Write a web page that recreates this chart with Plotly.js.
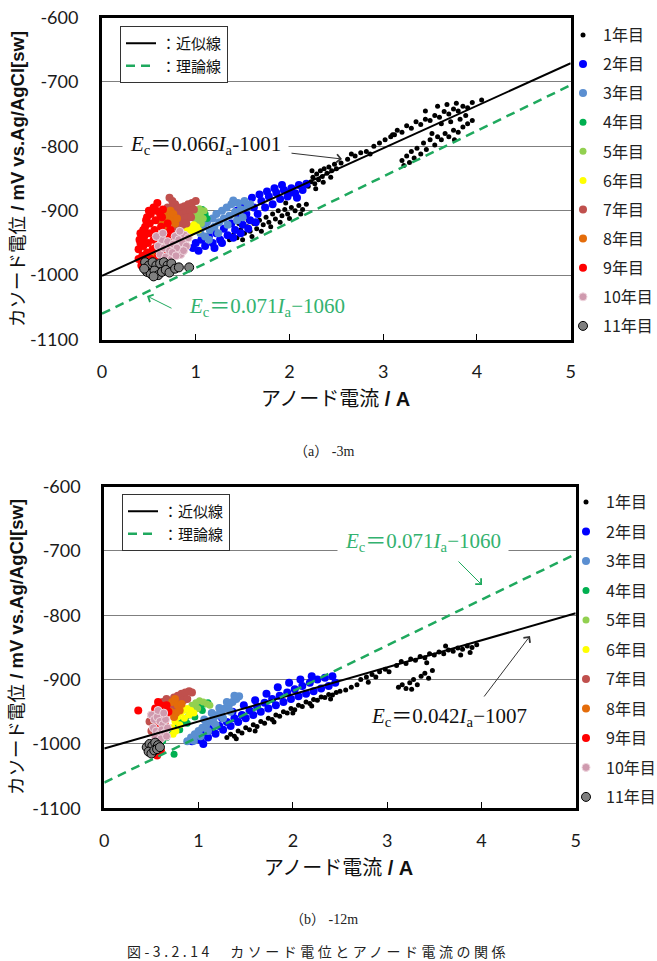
<!DOCTYPE html>
<html>
<head>
<meta charset="utf-8">
<script src="https://cdn.plot.ly/plotly-3.0.1.min.js"></script>
<style>
  html, body { margin: 0; padding: 0; background: #fff; }
  #chart { width: 657px; height: 961px; }
</style>
</head>
<body>
<div id="chart"></div>
<script>
// ---- labels ----
const yearLabels = ['1年目','2年目','3年目','4年目','5年目','6年目','7年目','8年目','9年目','10年目','11年目'];
const xTicks = [0, 1, 2, 3, 4, 5];
const yTicks = [-1100, -1000, -900, -800, -700, -600];
const yTickText = ['-1100', '-1000', '-900', '-800', '-700', '-600'];

// ---- regression / theory lines: Ec = slope * Ia[mA] + intercept ----
const fitTop = [0.066, -1001];
const fitBottom = [0.042, -1007];
const theoryLine = [0.071, -1060];
const lineRangeA = [0, 5];

// ---- (a) -3m : [anode current A, cathode potential mV] ----
const top1 = [
  [1.36,-945],[1.40,-938],[1.44,-942],[1.48,-930],[1.52,-935],[1.55,-925],[1.58,-932],[1.62,-920],[1.65,-928],[1.68,-915],
  [1.72,-922],[1.75,-910],[1.78,-918],[1.82,-905],[1.85,-913],[1.88,-900],[1.92,-908],[1.95,-898],[1.98,-905],[2.02,-895],
  [2.06,-900],[2.10,-892],[2.14,-898],[1.50,-945],[1.60,-940],[1.70,-932],[1.80,-925],[1.90,-918],[2.00,-912],[1.46,-920],
  [1.56,-915],[2.12,-905],[1.96,-888],[2.18,-890],
  [2.20,-862],[2.23,-855],[2.25,-848],[2.27,-858],[2.29,-843],[2.31,-852],[2.33,-838],[2.35,-847],[2.37,-835],[2.40,-842],
  [2.42,-832],[2.45,-838],[2.48,-828],[2.50,-835],[2.28,-866],[2.36,-856],[2.44,-848],[2.24,-838],
  [2.55,-826],[2.62,-820],[2.70,-815],[2.76,-810],[2.82,-808],[2.90,-800],[2.96,-795],[3.02,-790],[3.08,-785],[3.12,-782],
  [2.66,-812],[2.86,-812],
  [3.10,-782],[3.15,-775],[3.20,-778],[3.25,-768],[3.30,-772],[3.35,-762],[3.40,-766],[3.45,-758],[3.50,-760],[3.55,-752],
  [3.60,-755],[3.65,-746],[3.70,-750],[3.75,-742],[3.80,-745],[3.85,-738],[3.90,-740],[3.95,-732],[4.05,-728],[3.58,-738],
  [3.62,-765],[3.72,-762],[3.82,-758],[3.88,-752],[3.78,-733],[3.45,-745],[3.68,-735],
  [3.20,-822],[3.22,-830],[3.25,-815],[3.28,-825],[3.30,-808],[3.33,-818],[3.36,-803],[3.40,-812],[3.43,-795],[3.46,-805],
  [3.50,-790],[3.55,-798],[3.58,-785],[3.62,-790],[3.66,-780],[3.70,-785],[3.75,-775],[3.80,-778],[3.85,-770],[3.90,-765],
  [3.95,-760],[3.52,-780],[3.76,-790]
];
const top2 = [
  [0.97,-958],[1.00,-950],[1.03,-962],[1.06,-945],[1.10,-955],[1.14,-940],[1.18,-950],[1.22,-935],[1.26,-945],[1.30,-928],
  [1.34,-938],[1.38,-920],[1.42,-930],[1.46,-912],[1.50,-922],[1.54,-905],[1.58,-915],[1.62,-895],[1.66,-905],[1.70,-885],
  [1.74,-895],[1.78,-878],[1.82,-890],[1.86,-872],[1.90,-882],[1.94,-868],[1.98,-878],[2.02,-865],[2.06,-873],[2.10,-860],
  [2.14,-868],[2.18,-858],[1.68,-875],[1.76,-870],[1.84,-865],[1.92,-860],[2.00,-872],[2.08,-880],[1.60,-880],[1.52,-893],
  [1.44,-900],[1.20,-958],[1.28,-950],[1.40,-942],[1.48,-935],[1.56,-928],[1.64,-918]
];
const top3 = [
  [1.05,-935],[1.08,-925],[1.10,-940],[1.12,-918],[1.15,-930],[1.18,-912],[1.20,-925],[1.22,-905],[1.25,-918],[1.28,-900],
  [1.30,-912],[1.33,-895],[1.36,-908],[1.38,-890],[1.42,-902],[1.45,-888],[1.48,-898],[1.52,-885],[1.55,-895],[1.58,-890],
  [1.14,-945],[1.24,-935],[1.34,-922],[1.44,-915],[1.40,-884],[1.50,-910]
];
const top4 = [[1.02,-900],[1.07,-898],[1.10,-905],[1.12,-912],[1.05,-915]];
const top5 = [[0.99,-905],[1.02,-910],[1.05,-905],[1.08,-912],[1.03,-918],[1.06,-920],[1.00,-915],[1.09,-900],[1.04,-897]];
const top6 = [[0.92,-930],[0.95,-925],[0.98,-922],[1.01,-925],[0.97,-932],[0.94,-935],[0.54,-972],[0.57,-975],[1.03,-930],[0.90,-927]];
const top7 = [
  [0.72,-880],[0.75,-885],[0.78,-890],[0.74,-895],[0.80,-898],[0.84,-895],[0.88,-893],[0.92,-890],[0.96,-888],[1.00,-885],
  [0.82,-905],[0.86,-905],[0.90,-902],[0.94,-900],[0.98,-898],[0.79,-912],[0.83,-915],[0.87,-912],[0.91,-910],[0.95,-910],
  [0.78,-925],[0.82,-925],[0.86,-922],[0.90,-920],[0.70,-930],[0.74,-935],[0.77,-903],[0.70,-895]
];
const top8 = [
  [0.66,-912],[0.69,-905],[0.72,-910],[0.75,-915],[0.70,-918],[0.78,-920],[0.73,-900],[0.64,-920],[0.76,-905],[0.80,-912],
  [0.52,-968],[0.56,-972],[0.60,-915],[0.67,-925]
];
const top9 = [
  [0.39,-975],[0.39,-960],[0.40,-945],[0.41,-935],[0.42,-985],[0.43,-970],[0.44,-955],[0.45,-940],[0.46,-925],[0.47,-915],
  [0.47,-980],[0.48,-965],[0.49,-950],[0.50,-935],[0.51,-920],[0.52,-905],[0.52,-975],[0.54,-960],[0.55,-945],[0.56,-930],
  [0.57,-915],[0.58,-900],[0.59,-888],[0.60,-970],[0.61,-955],[0.62,-940],[0.63,-925],[0.64,-910],[0.65,-898],[0.66,-965],
  [0.67,-950],[0.68,-935],[0.70,-920],[0.71,-945],[0.73,-930],[0.75,-940],[0.43,-945],[0.53,-990],[0.45,-985],[0.58,-980],
  [0.62,-905],[0.50,-900],[0.55,-895],[0.41,-950],[0.49,-975],[0.57,-958],[0.64,-945],[0.69,-958],[0.44,-930],[0.48,-910]
];
const top10 = [
  [0.60,-955],[0.62,-968],[0.64,-945],[0.66,-958],[0.68,-972],[0.70,-948],[0.72,-962],[0.74,-975],[0.76,-952],[0.78,-940],
  [0.80,-958],[0.82,-945],[0.84,-968],[0.86,-950],[0.88,-938],[0.90,-955],[0.63,-980],[0.67,-985],[0.71,-982],[0.75,-965],
  [0.79,-970],[0.83,-932],[0.87,-962],[0.92,-942],[0.58,-940],[0.65,-935]
];
const top11 = [
  [0.46,-980],[0.50,-985],[0.54,-980],[0.58,-985],[0.62,-982],[0.66,-980],[0.70,-985],[0.74,-982],[0.48,-995],[0.52,-998],
  [0.56,-993],[0.60,-1000],[0.64,-995],[0.68,-992],[0.72,-996],[0.78,-990],[0.82,-988],[0.93,-988],[0.55,-1002],[0.45,-990]
];

// ---- (b) -12m ----
const bot1 = [
  [1.30,-990],[1.34,-985],[1.38,-988],[1.42,-980],[1.46,-983],[1.50,-975],[1.54,-978],[1.58,-970],[1.62,-973],[1.66,-965],
  [1.70,-968],[1.74,-960],[1.78,-962],[1.82,-955],[1.86,-957],[1.90,-950],[1.94,-952],[1.98,-945],[2.02,-947],[2.06,-940],
  [2.10,-942],[2.14,-935],[2.18,-937],[2.22,-931],[2.26,-932],[2.30,-927],[2.34,-928],[2.38,-923],[2.42,-924],[2.46,-920],
  [2.50,-918],[2.56,-916],[2.62,-912],[2.68,-908],[1.40,-992],[1.60,-980],[1.80,-966],[2.00,-952],[2.20,-941],[2.40,-930],
  [2.72,-900],[2.78,-896],[2.84,-892],[2.88,-896],[2.92,-888],[2.98,-884],[3.02,-888],[2.80,-904],
  [3.10,-878],[3.15,-872],[3.20,-875],[3.25,-868],[3.30,-870],[3.35,-864],[3.40,-866],[3.45,-860],[3.50,-862],[3.55,-857],
  [3.60,-860],[3.65,-854],[3.70,-856],[3.75,-851],[3.80,-853],[3.85,-848],[3.90,-850],[3.95,-846],[3.62,-848],[3.78,-862],
  [3.88,-858],[3.42,-874],
  [3.12,-912],[3.16,-908],[3.20,-914],[3.24,-905],[3.28,-900],[3.32,-908],[3.36,-895],[3.40,-890],[3.44,-898],[3.48,-886],
  [3.26,-915]
];
const bot2 = [
  [0.93,-996],[0.98,-990],[1.02,-994],[1.06,-985],[1.10,-990],[1.14,-978],[1.18,-984],[1.22,-972],[1.26,-978],[1.30,-966],
  [1.34,-972],[1.38,-960],[1.42,-966],[1.46,-955],[1.50,-960],[1.54,-948],[1.58,-955],[1.62,-942],[1.66,-950],[1.70,-936],
  [1.74,-945],[1.78,-930],[1.82,-940],[1.86,-925],[1.90,-935],[1.94,-920],[1.98,-930],[2.02,-915],[2.06,-926],[2.10,-910],
  [2.14,-922],[2.18,-905],[2.22,-918],[2.26,-900],[2.30,-914],[2.34,-897],[2.38,-910],[2.42,-895],[2.45,-905],[1.48,-940],
  [1.60,-932],[1.72,-922],[1.84,-912],[1.96,-905],[2.08,-900],[2.20,-895],[1.25,-960],[1.36,-950],[1.10,-975],[1.05,-1000]
];
const bot3 = [
  [0.88,-996],[0.92,-990],[0.96,-985],[1.00,-980],[1.04,-975],[1.08,-970],[1.12,-965],[1.16,-960],[1.20,-955],[1.24,-950],
  [1.28,-945],[1.32,-940],[1.36,-935],[1.40,-930],[1.43,-926],[0.95,-995],[1.02,-988],[1.10,-980],[1.18,-970],[1.26,-960],
  [1.34,-950],[1.06,-962],[1.14,-952],[1.22,-944],[1.30,-935],[1.38,-925]
];
const bot4 = [
  [0.62,-995],[0.66,-990],[0.70,-984],[0.74,-978],[0.78,-972],[0.82,-966],[0.86,-960],[0.90,-955],[0.94,-950],[0.98,-945],
  [1.02,-942],[1.06,-938],[1.10,-936],[0.80,-978],[0.88,-968],[0.96,-958],[1.04,-948],[0.74,-1016]
];
const bot5 = [[0.93,-940],[0.97,-936],[1.01,-933],[1.05,-935],[1.09,-938],[0.99,-945],[1.12,-940]];
const bot6 = [
  [0.72,-975],[0.75,-965],[0.78,-958],[0.81,-952],[0.84,-948],[0.88,-945],[0.92,-948],[0.76,-980],[0.80,-970],[0.85,-960],
  [0.90,-955],[0.73,-985],[0.95,-952]
];
const bot7 = [
  [0.48,-965],[0.50,-955],[0.52,-975],[0.54,-948],[0.56,-962],[0.58,-940],[0.60,-952],[0.62,-935],[0.64,-945],[0.66,-930],
  [0.70,-935],[0.74,-928],[0.78,-925],[0.82,-922],[0.86,-920],[0.90,-918],[0.93,-920],[0.76,-938],[0.80,-935],[0.84,-932],
  [0.88,-930],[0.50,-980],[0.55,-985],[0.72,-945]
];
const bot8 = [[0.72,-935],[0.75,-930],[0.78,-940],[0.80,-948],[0.76,-952],[0.82,-938],[0.74,-958],[0.70,-950]];
const bot9 = [
  [0.54,-945],[0.57,-935],[0.60,-940],[0.63,-948],[0.66,-940],[0.58,-955],[0.62,-960],[0.65,-955],[0.56,-970],[0.60,-975],
  [0.64,-968],[0.55,-990],[0.58,-995],[0.62,-985],[0.52,-960],[0.68,-950],[0.36,-948],[0.56,-1018],[0.52,-1012],[0.60,-1010]
];
const bot10 = [
  [0.50,-955],[0.53,-962],[0.56,-958],[0.59,-965],[0.62,-970],[0.65,-962],[0.52,-975],[0.55,-980],[0.58,-985],[0.61,-978],
  [0.64,-983],[0.67,-975],[0.54,-990],[0.60,-992],[0.66,-988],[0.57,-948],[0.63,-952]
];
const bot11 = [
  [0.45,-1005],[0.48,-1000],[0.51,-1003],[0.54,-998],[0.57,-1002],[0.47,-1012],[0.50,-1015],[0.53,-1010],[0.56,-1008],[0.59,-1005]
];

const topSeries = [top1, top2, top3, top4, top5, top6, top7, top8, top9, top10, top11];
const bottomSeries = [bot1, bot2, bot3, bot4, bot5, bot6, bot7, bot8, bot9, bot10, bot11];

// ---- marker styling per year ----
const yearColors = ['#000000','#0000ff','#5b8fd1','#00b050','#92d050','#ffff00','#c0504d','#e46c0a','#ff0000','#cf9aae','#7f7f7f'];
const markerSizes = [5, 8, 8, 7, 7, 7, 8, 8, 8, 8, 9];
const markerLineColors = ['#000000','#0000ff','#5b8fd1','#00b050','#92d050','#ffff00','#c0504d','#e46c0a','#ff0000','#efd6de','#000000'];
const markerLineWidths = [0, 0, 0, 0, 0, 0, 0, 0, 0, 1, 1];

const GREEN_LINE = '#1fa95e';
const GREEN_TEXT = '#33b26f';
const JP = 'Noto Sans CJK JP';

function yearTraces(series, xa, ya, legendId, prefix) {
  return series.map((pts, i) => ({
    type: 'scatter', mode: 'markers',
    x: pts.map(p => p[0]), y: pts.map(p => p[1]),
    xaxis: xa, yaxis: ya,
    name: yearLabels[i], legend: legendId, legendgroup: prefix + i,
    marker: { color: yearColors[i], size: markerSizes[i],
              line: { color: markerLineColors[i], width: markerLineWidths[i] } },
    hoverinfo: 'skip'
  }));
}

function eqLine(coef, name, xa, ya, legendId, style) {
  return {
    type: 'scatter', mode: 'lines',
    x: lineRangeA.slice(),
    y: lineRangeA.map(a => coef[0] * 1000 * a + coef[1]),
    xaxis: xa, yaxis: ya, name: name, legend: legendId,
    line: style, hoverinfo: 'skip'
  };
}

const solidBlack = { color: '#000', width: 2 };
const dashedGreen = { color: GREEN_LINE, width: 2.5, dash: '9px,6px' };

const traces = [
  ...yearTraces(topSeries, 'x', 'y', 'legend', 'a'),
  eqLine(fitTop, '：近似線', 'x', 'y', 'legend3', solidBlack),
  eqLine(theoryLine, '：理論線', 'x', 'y', 'legend3', dashedGreen),
  ...yearTraces(bottomSeries, 'x2', 'y2', 'legend2', 'b'),
  eqLine(fitBottom, '：近似線', 'x2', 'y2', 'legend4', solidBlack),
  eqLine(theoryLine, '：理論線', 'x2', 'y2', 'legend4', dashedGreen)
];

const W = 657, H = 961;
const px = v => v / W;
const py = v => 1 - v / H;

function xAxis(domain, anchor) {
  return {
    domain: domain, anchor: anchor, range: [0, 5], tickvals: xTicks,
    showline: true, mirror: true, linecolor: '#000', linewidth: 3,
    showgrid: false, zeroline: false,
    ticks: 'inside', ticklen: 6, tickwidth: 1, tickcolor: '#000',
    tickfont: { family: 'Lato', size: 18, color: '#1a1a1a' },
    ticklabelstandoff: 14, fixedrange: true
  };
}
function yAxis(domain, anchor) {
  return {
    domain: domain, anchor: anchor, range: [-1100, -600],
    tickmode: 'array', tickvals: yTicks, ticktext: yTickText,
    showline: true, mirror: true, linecolor: '#000', linewidth: 3,
    showgrid: true, gridcolor: '#7f7f7f', gridwidth: 1, zeroline: false,
    ticks: '', tickfont: { family: 'Lato', size: 18, color: '#1a1a1a' },
    ticklabelstandoff: 17, fixedrange: true
  };
}

function yearLegend(left, top, gap) {
  return {
    x: px(left), y: py(top), xanchor: 'left', yanchor: 'top',
    xref: 'paper', yref: 'paper', bgcolor: 'rgba(0,0,0,0)', borderwidth: 0,
    font: { family: JP, size: 16, color: '#222' },
    traceorder: 'grouped', tracegroupgap: gap, itemclick: false, itemdoubleclick: false
  };
}
function lineLegend(left, top) {
  return {
    x: px(left), y: py(top), xanchor: 'left', yanchor: 'top',
    xref: 'paper', yref: 'paper', bgcolor: '#fff', bordercolor: '#333', borderwidth: 1,
    font: { family: JP, size: 15, color: '#111' },
    itemclick: false, itemdoubleclick: false
  };
}

const eqFont = (color) => ({ family: 'Liberation Serif, ' + JP, size: 21, color: color });

function textNote(text, cx, cy, font, extra) {
  return Object.assign({
    text: text, xref: 'paper', yref: 'paper', x: px(cx), y: py(cy),
    xanchor: 'center', yanchor: 'middle', showarrow: false, font: font
  }, extra || {});
}
function arrowNote(hx, hy, ax, ay, color) {
  return {
    text: '', xref: 'paper', yref: 'paper', x: px(hx), y: py(hy),
    ax: ax, ay: ay, showarrow: true, arrowhead: 4, arrowsize: 1.6,
    arrowwidth: 1, arrowcolor: color, standoff: 0
  };
}

const yTitle = 'カソード電位<b> / mV vs.Ag/AgCl[sw]</b>';
const xTitle = 'アノード電流<b> / A</b>';
const titleFont = { family: 'Liberation Sans, ' + JP, size: 20, color: '#111' };
const yTitleFont = { family: 'Liberation Sans, ' + JP, size: 18.5, color: '#111' };

const annotations = [
  // axis titles
  textNote(yTitle, 17, 179, yTitleFont, { textangle: -90 }),
  textNote(xTitle, 335, 399, titleFont),
  textNote(yTitle, 16, 647, yTitleFont, { textangle: -90 }),
  textNote(xTitle, 338, 868, titleFont),
  // equations
  textNote('<i>E</i><sub>c</sub>＝0.066<i>I</i><sub>a</sub>-1001', 205, 145, eqFont('#111'),
           { bgcolor: '#fff', borderpad: 7 }),
  textNote('<i>E</i><sub>c</sub>＝0.071<i>I</i><sub>a</sub>−1060', 267, 307, eqFont(GREEN_TEXT)),
  textNote('<i>E</i><sub>c</sub>＝0.071<i>I</i><sub>a</sub>−1060', 423, 542, eqFont(GREEN_TEXT),
           { bgcolor: '#fff', borderpad: 7 }),
  textNote('<i>E</i><sub>c</sub>＝0.042<i>I</i><sub>a</sub>−1007', 449, 717, eqFont('#111')),
  // pointers
  arrowNote(342, 159, -52, -6, '#333'),
  arrowNote(147, 296, 26, 13, GREEN_LINE),
  arrowNote(482, 585, -25, -25, GREEN_LINE),
  arrowNote(530, 636, -47, 62, '#333'),
  // captions
  textNote('（a） -3m', 324, 451, { family: 'Liberation Serif, ' + JP, size: 14, color: '#222' }),
  textNote('（b） -12m', 324, 919, { family: 'Liberation Serif, ' + JP, size: 14, color: '#222' }),
  textNote('<span style="letter-spacing:3.5px">図-3.2.14　カソード電位とアノード電流の関係</span>', 318, 951,
           { family: JP, size: 14, color: '#222' })
];

const layout = {
  width: W, height: H,
  margin: { l: 0, r: 0, t: 0, b: 0, autoexpand: false },
  paper_bgcolor: '#fff', plot_bgcolor: '#fff',
  showlegend: true, hovermode: false,
  xaxis: xAxis([px(102), px(570.7)], 'y'),
  yaxis: yAxis([py(339.5), py(17.5)], 'x'),
  xaxis2: xAxis([px(104.3), px(575.7)], 'y2'),
  yaxis2: yAxis([py(808.3), py(486.5)], 'x2'),
  legend: yearLegend(563, 18, 5.3),
  legend2: yearLegend(566, 485, 5.7),
  legend3: lineLegend(120, 26),
  legend4: lineLegend(122, 494),
  annotations: annotations
};

Plotly.newPlot('chart', traces, layout, { staticPlot: true, displayModeBar: false });
</script>
</body>
</html>
